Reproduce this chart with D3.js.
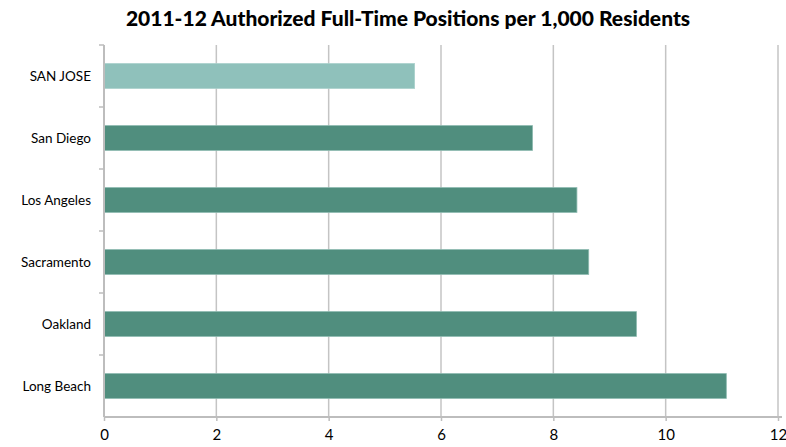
<!DOCTYPE html>
<html>
<head>
<meta charset="utf-8">
<script src="https://cdn.jsdelivr.net/npm/d3@7"></script>
<style>
    body { margin: 0; background: #fff; }
    text { font-family: Lato, "Open Sans", sans-serif; fill: #000; }
</style>
</head>
<body>
<div id="chart"></div>
<script>
const cities = ["SAN JOSE", "San Diego", "Los Angeles", "Sacramento", "Oakland", "Long Beach"];
const positions = [5.53, 7.63, 8.42, 8.63, 9.48, 11.08];
const xTicks = [0, 2, 4, 6, 8, 10, 12];
const chartTitle = "2011-12 Authorized Full-Time Positions per 1,000 Residents";

const width = 786, height = 447;
const margin = {top: 45, right: 8, bottom: 30, left: 104};
const innerW = 778 - margin.left;
const innerH = 417 - margin.top;

const svg = d3.select("#chart").append("svg")
    .attr("width", width)
    .attr("height", height);

svg.append("text")
    .attr("x", 408)
    .attr("y", 26)
    .attr("text-anchor", "middle")
    .style("font-size", "21px")
    .style("font-weight", "900")
    .text(chartTitle);

const g = svg.append("g")
    .attr("transform", "translate(" + margin.left + "," + margin.top + ")");

const xSc = d3.scaleLinear().domain([0, 12]).range([0, innerW]);
const ySc = d3.scaleBand().domain(cities).range([0, innerH]).paddingInner(0.6).paddingOuter(0.3);
const bandSc = d3.scaleBand().domain(cities).range([0, innerH]);

// vertical gridlines
g.selectAll(".grid")
    .data(xTicks.slice(1))
    .enter().append("line")
    .attr("x1", d => xSc(d)).attr("x2", d => xSc(d))
    .attr("y1", 0).attr("y2", innerH)
    .attr("stroke", "#c4c4c4")
    .attr("stroke-width", 1.5);

// bars
g.selectAll(".bar")
    .data(cities)
    .enter().append("rect")
    .attr("x", 0)
    .attr("y", d => ySc(d))
    .attr("width", (d, i) => xSc(positions[i]))
    .attr("height", ySc.bandwidth())
    .attr("fill", (d, i) => i === 0 ? "#8fc1bb" : "#508e7e")
    .attr("stroke", (d, i) => i === 0 ? "#a9d0cb" : "#8dbab0")
    .attr("stroke-width", 0.8);

// x axis
const xAxis = g.append("g")
    .attr("transform", "translate(0," + innerH + ")")
    .call(d3.axisBottom(xSc).tickValues(xTicks).tickSize(4).tickPadding(8).tickSizeOuter(0));
xAxis.select(".domain").attr("stroke", "#bdbdbd").attr("stroke-width", 2)
    .attr("d", "M0,0H" + (innerW + 4));
xAxis.selectAll(".tick line").attr("stroke", "#bdbdbd").attr("stroke-width", 1.5);
xAxis.selectAll(".tick text").style("font-size", "15px").attr("fill", "#000");

// y axis with ticks at band boundaries
const yAxis = g.append("g");
yAxis.append("line")
    .attr("x1", 0).attr("x2", 0)
    .attr("y1", 0).attr("y2", innerH)
    .attr("stroke", "#bdbdbd").attr("stroke-width", 2);
yAxis.selectAll(".ytick")
    .data(cities)
    .enter().append("line")
    .attr("x1", -5).attr("x2", 0)
    .attr("y1", d => bandSc(d)).attr("y2", d => bandSc(d))
    .attr("stroke", "#bdbdbd").attr("stroke-width", 1.5);
yAxis.selectAll(".ylabel")
    .data(cities)
    .enter().append("text")
    .attr("x", -13)
    .attr("y", d => ySc(d) + ySc.bandwidth() / 2)
    .attr("dy", "0.35em")
    .attr("text-anchor", "end")
    .style("font-size", "13.5px")
    .text(d => d);
</script>
</body>
</html>
